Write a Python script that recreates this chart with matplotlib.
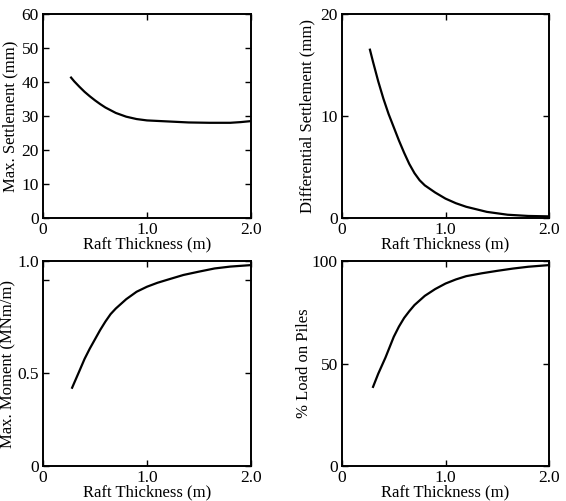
import matplotlib
matplotlib.use('Agg')
import matplotlib.pyplot as plt

plt.rcParams['font.family'] = ['Liberation Serif', 'DejaVu Serif']

# data
thick_set = [0.27, 0.3, 0.35, 0.4, 0.45, 0.5, 0.55, 0.6, 0.7, 0.8, 0.9, 1.0,
             1.2, 1.4, 1.6, 1.8, 1.9, 2.0]
max_settle = [41.3, 40.2, 38.6, 37.1, 35.8, 34.6, 33.5, 32.5, 30.9, 29.8, 29.1, 28.7,
              28.4, 28.1, 28.0, 28.0, 28.2, 28.5]

thick_diff = [0.27, 0.3, 0.35, 0.4, 0.45, 0.5, 0.55, 0.6, 0.65, 0.7, 0.75, 0.8,
              0.9, 1.0, 1.1, 1.2, 1.4, 1.6, 1.8, 2.0]
diff_settle = [16.5, 15.3, 13.4, 11.7, 10.2, 8.9, 7.6, 6.4, 5.3, 4.4, 3.7, 3.2,
               2.5, 1.9, 1.45, 1.1, 0.6, 0.32, 0.2, 0.16]

thick_mom = [0.28, 0.35, 0.4, 0.45, 0.5, 0.55, 0.6, 0.65, 0.7, 0.8, 0.9, 1.0,
             1.1, 1.2, 1.35, 1.5, 1.65, 1.8, 2.0]
max_moment = [0.42, 0.51, 0.575, 0.63, 0.68, 0.73, 0.775, 0.815, 0.845, 0.895, 0.935, 0.962,
              0.983, 1.0, 1.025, 1.043, 1.06, 1.07, 1.078]

thick_load = [0.30, 0.35, 0.42, 0.5, 0.55, 0.6, 0.65, 0.7, 0.8, 0.9, 1.0,
              1.1, 1.2, 1.35, 1.5, 1.65, 1.8, 2.0]
load_piles = [38.6, 45.0, 52.9, 63.0, 68.0, 72.2, 75.5, 78.5, 83.0, 86.3, 89.0,
              91.0, 92.6, 94.0, 95.2, 96.3, 97.2, 98.0]

xticks = [0, 1.0, 2.0]
xticklabels = ['0', '1.0', '2.0']
xlabel = 'Raft Thickness (m)'

W, H = 566, 501
fig = plt.figure(figsize=(W / 100, H / 100), dpi=100)


def make_ax(left, top, right, bottom):
    return fig.add_axes([left / W, 1 - bottom / H, (right - left) / W, (bottom - top) / H])


def style(ax, ylabel, ylab_x):
    ax.set_xlim(0, 2.0)
    ax.set_xticks(xticks)
    ax.set_xticklabels(xticklabels)
    ax.tick_params(direction='in', top=True, right=True, length=4, width=1,
                   labelsize=12.5, pad=3)
    for s in ax.spines.values():
        s.set_linewidth(1.4)
    ax.set_xlabel(xlabel, fontsize=12)
    ax.xaxis.set_label_coords(0.5, -0.092)
    ax.set_ylabel(ylabel, fontsize=12)
    ax.yaxis.set_label_coords(ylab_x, 0.5)


ax1 = make_ax(43, 14, 251, 218)
ax1.plot(thick_set, max_settle, color='black', lw=1.6)
ax1.set_ylim(0, 60)
ax1.set_yticks([0, 10, 20, 30, 40, 50, 60])
style(ax1, 'Max. Settlement (mm)', -0.12)

ax2 = make_ax(342, 14, 549, 218)
ax2.plot(thick_diff, diff_settle, color='black', lw=1.6)
ax2.set_ylim(0, 20)
ax2.set_yticks([0, 10, 20])
style(ax2, 'Differential Settlement (mm)', -0.13)

ax3 = make_ax(43, 261, 251, 466)
ax3.plot(thick_mom, max_moment, color='black', lw=1.6)
ax3.set_ylim(0, 1.1)
ax3.set_yticks([0, 0.5, 1.0, 1.1])
ax3.set_yticklabels(['0', '0.5', '', '1.0'])
style(ax3, 'Max. Moment (MNm/m)', -0.13)

ax4 = make_ax(342, 261, 549, 466)
ax4.plot(thick_load, load_piles, color='black', lw=1.6)
ax4.set_ylim(0, 100)
ax4.set_yticks([0, 50, 100])
style(ax4, '% Load on Piles', -0.145)

fig.savefig('out.png', dpi=100)
